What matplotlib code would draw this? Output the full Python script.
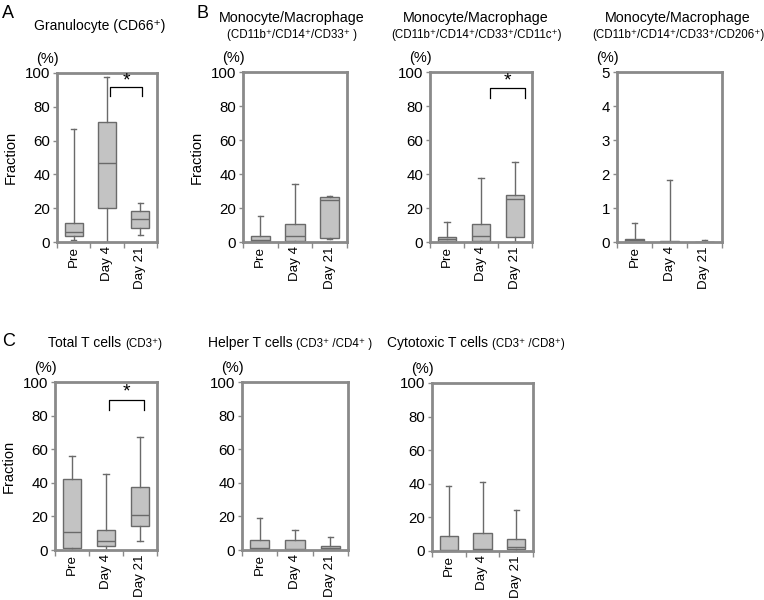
import matplotlib.pyplot as plt

plt.rcParams['font.family'] = ['Liberation Sans', 'DejaVu Sans']

days = ['Pre', 'Day 4', 'Day 21']

# five-number summaries per day: [whisker low, Q1, median, Q3, whisker high]
granulocyte = [[1, 3.6, 5.8, 11.5, 66.7], [0, 20, 46.8, 71, 97.4], [4.2, 8.5, 13.7, 18.5, 23]]
mono_cd33 = [[0, 0.8, 1, 3.5, 15.3], [0, 0.5, 3.5, 10.6, 34], [1.5, 2.2, 25, 26.3, 26.8]]
mono_cd11c = [[0, 0.6, 1.5, 2.8, 11.6], [0, 0.5, 3.5, 10.4, 37.5], [0, 3.1, 25.1, 27.6, 46.9]]
mono_cd206 = [[0, 0.01, 0.05, 0.09, 0.57], [0, 0.005, 0.01, 0.03, 1.82], [0, 0.002, 0.005, 0.01, 0.07]]
t_total = [[0, 1, 11, 42.4, 55.8], [0, 2.2, 5.3, 12.2, 45.4], [5.5, 14, 20.7, 37.7, 67.3]]
t_helper = [[0, 0.3, 1.4, 6.1, 18.8], [0, 0.2, 0.5, 5.9, 11.8], [0, 0.3, 1, 2.5, 7.5]]
t_cyto = [[0, 0, 0.5, 9.1, 38.6], [0, 0.3, 1, 11, 41.2], [0, 1, 2.6, 6.9, 24.6]]

W, H = 764, 600
FRAME = '#8a8a8a'
EDGE = '#6a6a6a'


def add_axes(fig, x0, y0, x1, y1):
    return fig.add_axes([x0 / W, 1 - y1 / H, (x1 - x0) / W, (y1 - y0) / H])


def draw_panel(ax, data, ymax, step, ylabel=False):
    stats = []
    for d in data:
        stats.append(dict(whislo=d[0], q1=d[1], med=d[2], q3=d[3], whishi=d[4], fliers=[]))
    ax.bxp(stats, positions=[1, 2, 3], widths=0.55, patch_artist=True, showfliers=False,
           boxprops=dict(facecolor='#c3c3c3', edgecolor=EDGE, linewidth=1),
           medianprops=dict(color=EDGE, linewidth=1),
           whiskerprops=dict(color=EDGE, linewidth=1),
           capprops=dict(color=EDGE, linewidth=1), capwidths=0.15)
    ax.set_xlim(0.5, 3.5)
    ax.set_ylim(0, ymax)
    ax.set_yticks(range(0, ymax + 1, step))
    ax.set_xticks([1, 2, 3])
    ax.set_xticklabels(days, rotation=90)
    ax.set_xticks([0.5, 1.5, 2.5, 3.5], minor=True)
    ax.tick_params(axis='x', which='major', length=0, labelsize=9.6, pad=3)
    ax.tick_params(axis='x', which='minor', length=4, color=FRAME, width=1)
    ax.tick_params(axis='y', length=3, color=FRAME, width=1, labelsize=10.8, pad=2)
    for s in ax.spines.values():
        s.set_color(FRAME)
        s.set_linewidth(2)
    ax.annotate('(%)', xy=(0, 1), xycoords='axes fraction', xytext=(1, 5),
                textcoords='offset points', ha='right', va='bottom', fontsize=10.5)
    if ylabel:
        ax.set_ylabel('Fraction', fontsize=10.5, labelpad=5)


def bracket(ax, xa, xb, ylo, yhi, ystar):
    ax.plot([xa, xa, xb, xb], [ylo, yhi, yhi, ylo], color='black', lw=0.9, clip_on=False)
    ax.text((xa + xb) / 2, ystar, '*', ha='center', va='center', fontsize=14)


fig = plt.figure(figsize=(W / 100, H / 100), dpi=100)

ax = add_axes(fig, 57, 73, 157, 242)
draw_panel(ax, granulocyte, 100, 20, ylabel=True)
bracket(ax, 2.1, 3.05, 86.5, 92, 95.5)

ax = add_axes(fig, 243, 72, 347, 242)
draw_panel(ax, mono_cd33, 100, 20, ylabel=True)

ax = add_axes(fig, 430, 72, 532, 242)
draw_panel(ax, mono_cd11c, 100, 20)
bracket(ax, 2.27, 3.3, 85, 90.4, 94.5)

ax = add_axes(fig, 617, 72, 722, 242)
draw_panel(ax, mono_cd206, 5, 1)

ax = add_axes(fig, 55, 382, 157, 550)
draw_panel(ax, t_total, 100, 20, ylabel=True)
bracket(ax, 2.09, 3.12, 83.4, 89, 94)

ax = add_axes(fig, 242, 382, 348, 550)
draw_panel(ax, t_helper, 100, 20)

ax = add_axes(fig, 432, 383, 533, 551)
draw_panel(ax, t_cyto, 100, 20)

# panel letters
for letter, x, y in [('A', 2, 13), ('B', 196, 13), ('C', 2, 342)]:
    fig.text(x / W, 1 - y / H, letter, fontsize=13, ha='left', va='center')

# titles
fig.text(100 / W, 1 - 26 / H, 'Granulocyte (CD66\u207a)', fontsize=10, ha='center', va='center')
for cx, sub in [(292, '(CD11b\u207a/CD14\u207a/CD33\u207a )'),
                (476, '(CD11b\u207a/CD14\u207a/CD33\u207a/CD11c\u207a)'),
                (678, '(CD11b\u207a/CD14\u207a/CD33\u207a/CD206\u207a)')]:
    fig.text(cx / W, 1 - 18 / H, 'Monocyte/Macrophage', fontsize=10.3, ha='center', va='center')
    fig.text(cx / W, 1 - 35 / H, sub, fontsize=8.3, ha='center', va='center')

renderer = fig.canvas.get_renderer()
for x, main, sub in [(48, 'Total T cells ', '(CD3\u207a)'),
                     (208, 'Helper T cells ', '(CD3\u207a /CD4\u207a )'),
                     (387, 'Cytotoxic T cells ', '(CD3\u207a /CD8\u207a)')]:
    t = fig.text(x / W, 1 - 347 / H, main, fontsize=10, ha='left', va='baseline')
    width = t.get_window_extent(renderer).width
    fig.text((x + width) / W, 1 - 347 / H, sub, fontsize=8.3, ha='left', va='baseline')

fig.savefig('out.png', dpi=100)
